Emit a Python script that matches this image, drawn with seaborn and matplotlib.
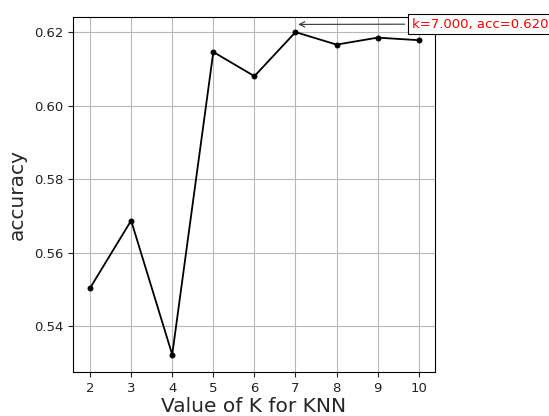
import numpy as np
import pandas as pd
import matplotlib
matplotlib.use('Agg')
import matplotlib.pyplot as plt
import seaborn as sns

# KNN accuracy for each k
k_values = [2, 3, 4, 5, 6, 7, 8, 9, 10]
accuracy = [0.5503, 0.5687, 0.5322, 0.6146, 0.6080, 0.6200, 0.6166, 0.6185, 0.6178]

df = pd.DataFrame({'k': k_values, 'acc': accuracy})

sns.set_style('ticks')
plt.rcParams['font.family'] = ['DejaVu Sans']

fig = plt.figure(figsize=(5.49, 4.16), dpi=100)
ax = fig.add_axes([0.133, 0.106, 0.659, 0.853])

sns.lineplot(data=df, x='k', y='acc', color='black', marker='o',
             markersize=3.5, markeredgecolor='black', linewidth=1.3, ax=ax)
ax.grid(True, color='#b8b8b8', linewidth=0.8)
ax.set_axisbelow(True)
for s in ax.spines.values():
    s.set_color('black')
    s.set_linewidth(0.8)

ax.set_xlim(1.586, 10.39)
ax.set_ylim(0.5275, 0.6241)
ax.set_xticks(k_values)
ax.set_yticks([0.54, 0.56, 0.58, 0.60, 0.62])
ax.tick_params(labelsize=9.5, colors='#222222')
ax.set_xlabel('Value of K for KNN', fontsize=14.5, labelpad=2)
ax.set_ylabel('accuracy', fontsize=14.5, labelpad=5)

best = int(np.argmax(accuracy))
ax.annotate('k=%.3f, acc=%.3f' % (k_values[best], accuracy[best]),
            xy=(k_values[best], accuracy[best] + 0.0021), xytext=(9.83, 0.6222),
            color='red', fontsize=9.5, va='center', ha='left',
            bbox=dict(boxstyle='square,pad=0.3', fc='white', ec='black', lw=0.8),
            arrowprops=dict(arrowstyle='->', color='#333333', lw=0.8),
            annotation_clip=False)

fig.savefig('out.png', dpi=100)
